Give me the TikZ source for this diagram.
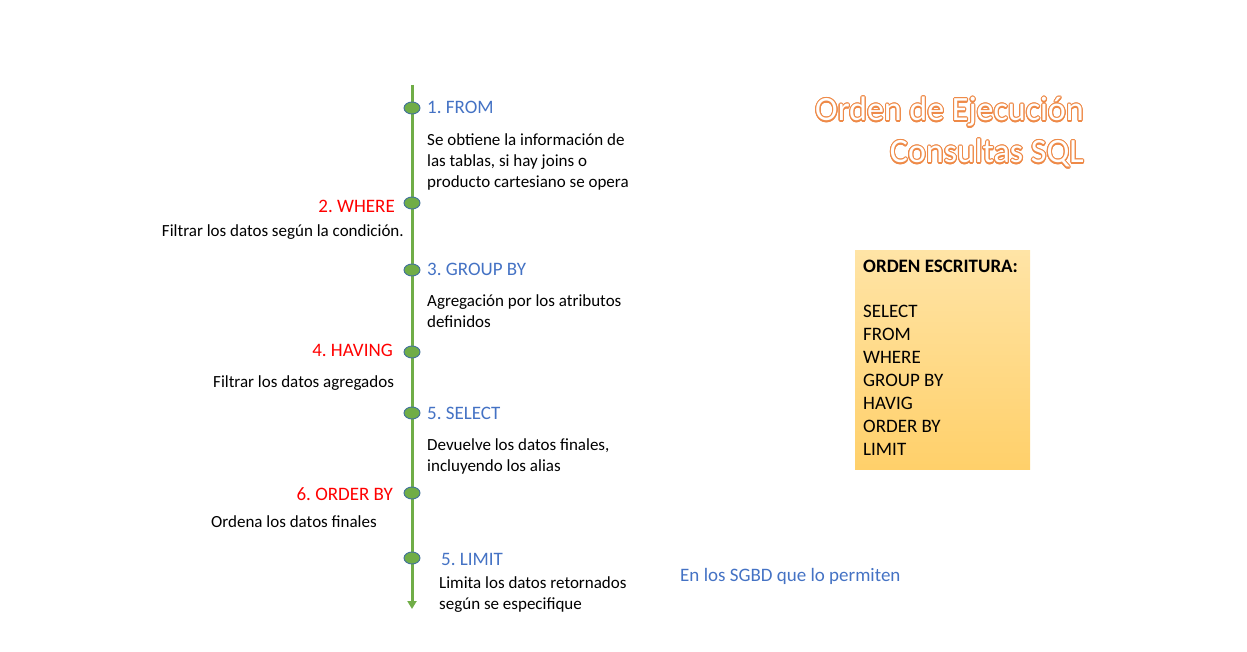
\documentclass[tikz,border=0pt]{standalone}
\usepackage{fontspec}
\setmainfont{Carlito}
\usepackage{contour}
\usepackage{tikz}
\usetikzlibrary{shapes.geometric, arrows.meta}
\definecolor{verde}{HTML}{70AD47}
\definecolor{bordehito}{HTML}{41719C}
\definecolor{azul}{HTML}{4472C4}
\definecolor{rojo}{HTML}{FF0000}
\definecolor{naranja}{HTML}{EE8A48}
\definecolor{cajaarriba}{HTML}{FFE4A6}
\definecolor{cajaabajo}{HTML}{FFD06A}
\frenchspacing

\begin{document}
\begin{tikzpicture}[x=1pt, y=-1pt,
  hito/.style={ellipse, draw=bordehito, fill=verde, line width=0.9pt, minimum width=16pt, minimum height=12pt, inner sep=0pt},
  paso/.style={font=\fontsize{19}{23}\selectfont, inner sep=0pt},
  texto/.style={font=\fontsize{17}{21}\selectfont, align=left, inner sep=0pt},
  titulo/.style={font=\fontsize{34}{42}\selectfont, inner sep=0pt}]
\useasboundingbox (0,0) rectangle (1247,652);
\contourlength{1.1pt}
% linea de tiempo
\coordinate (arriba) at (412,85);
\coordinate (abajo) at (412,609);
\draw[verde, line width=3pt, -{Triangle[width=9pt,length=8pt]}] (arriba) -- (abajo);
\node[hito] (h1) at (412,108) {};
\node[hito] (h2) at (412,203) {};
\node[hito] (h3) at (412,270) {};
\node[hito] (h4) at (412,352) {};
\node[hito] (h5) at (412,413) {};
\node[hito] (h6) at (412,493) {};
\node[hito] (h7) at (412,558) {};
% pasos
\node[paso, text=azul, anchor=base west] (from) at (427,114) {1. FROM};
\node[texto, anchor=north west] (dfrom) at (427,133) {Se obtiene la información de\\las tablas, si hay joins o\\producto cartesiano se opera};
\node[paso, text=rojo, anchor=base east] (where) at (395,213) {2. WHERE};
\node[texto, anchor=base east] (dwhere) at (404,237) {Filtrar los datos según la condición.};
\node[paso, text=azul, anchor=base west] (group) at (427,276) {3. GROUP BY};
\node[texto, anchor=north west] (dgroup) at (427,294) {Agregación por los atributos\\definidos};
\node[paso, text=rojo, anchor=base east] (having) at (393,356) {4. HAVING};
\node[texto, anchor=base west] (dhaving) at (213,387) {Filtrar los datos agregados};
\node[paso, text=azul, anchor=base west] (select) at (427,419) {5. SELECT};
\node[texto, anchor=north west] (dselect) at (427,438) {Devuelve los datos finales,\\incluyendo los alias};
\node[paso, text=rojo, anchor=base east] (order) at (393,500) {6. ORDER BY};
\node[texto, anchor=base west] (dorder) at (211,527) {Ordena los datos finales};
\node[paso, text=azul, anchor=base west] (limit) at (441,565) {5. LIMIT};
\node[texto, anchor=north west] (dlimit) at (439,576) {Limita los datos retornados\\según se especifique};
\node[paso, text=azul, anchor=base west] (sgbd) at (680,581) {En los SGBD que lo permiten};
% titulo
\node[titulo, anchor=base east] (titulo1) at (1084,121) {\contour{naranja}{\textcolor{white}{Orden de Ejecución}}};
\node[titulo, anchor=base east] (titulo2) at (1084,163) {\contour{naranja}{\textcolor{white}{Consultas SQL}}};
% caja orden de escritura
\node[top color=cajaarriba, bottom color=cajaabajo, minimum width=175pt, minimum height=219pt, anchor=north west, inner sep=0pt] (caja) at (855,250) {};
\node[paso, align=left, anchor=north west] (escritura) at (863,260) {\textbf{ORDEN ESCRITURA:}\\[22pt]SELECT\\FROM\\WHERE\\GROUP BY\\HAVIG\\ORDER BY\\LIMIT};
\end{tikzpicture}
\end{document}
